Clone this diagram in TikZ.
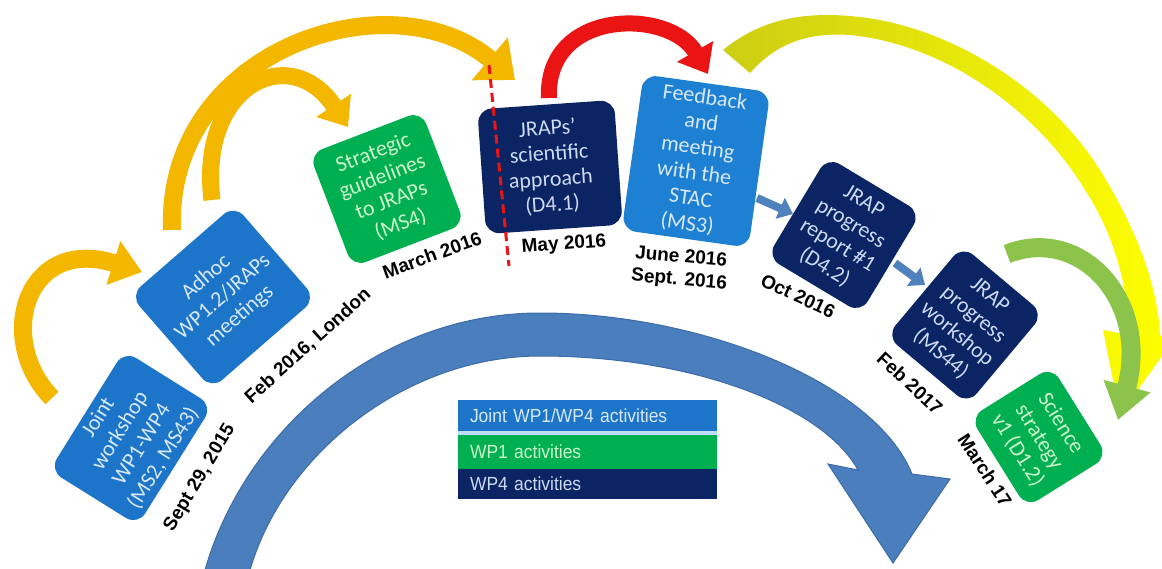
\documentclass[tikz,border=0pt]{standalone}
\usepackage{fontspec}
\setmainfont{Carlito}
\newfontfamily\datefont{Liberation Sans}
\newfontfamily\legfont[FakeStretch=0.92]{Liberation Sans}
\usetikzlibrary{arrows.meta}
\definecolor{jblue}{RGB}{28,117,200}
\definecolor{fblue}{RGB}{30,128,210}
\definecolor{wgreen}{RGB}{0,176,80}
\definecolor{navy}{RGB}{10,36,100}
\definecolor{orng}{RGB}{243,183,0}
\definecolor{redA}{RGB}{235,20,20}
\definecolor{ylA}{RGB}{205,205,20}
\definecolor{ylB}{RGB}{255,255,0}
\definecolor{lgreen}{RGB}{140,195,75}
\definecolor{sblue}{RGB}{79,129,189}
\definecolor{arcblue}{RGB}{74,126,188}
\definecolor{arcedge}{RGB}{62,108,168}
\definecolor{txtblue}{RGB}{215,232,250}
\definecolor{txtgreen}{RGB}{205,245,205}
\definecolor{txtnavy}{RGB}{205,218,242}
\definecolor{legsep}{RGB}{190,220,245}
\tikzset{
  box/.style={rounded corners=14pt, inner sep=1pt, align=center,
    font=\fontsize{22}{25.5}\selectfont, anchor=center},
  jointbox/.style={box, fill=jblue, text=txtblue},
  fbbox/.style={box, fill=fblue, text=txtblue},
  wponebox/.style={box, fill=wgreen, text=txtgreen},
  wpfourbox/.style={box, fill=navy, text=txtnavy},
  datelabel/.style={font=\datefont\bfseries\fontsize{19}{23}\selectfont, align=center, inner sep=0pt},
  legrow/.style={anchor=center, inner xsep=12pt, inner ysep=0pt, text width=235pt, align=left,
    font=\legfont\fontsize{19}{21}\selectfont},
  swoosh/.style={line width=#1, line cap=butt},
  smallarrow/.style={sblue, line width=8pt, -{Triangle[length=14pt,width=22pt]}},
}
\begin{document}
\begin{tikzpicture}[x=1pt,y=-1pt]
\useasboundingbox (0,0) rectangle (1162,568);
\begin{scope}
\clip (0,0) rectangle (1162,568);

% big blue arc arrow
\fill[arcblue, draw=arcedge, line width=1pt] (205,570) .. controls (245,430) and (380,313) .. (540,313)
  .. controls (700,313) and (875,382) .. (912,474) -- (950,479) -- (893,563) -- (828,464) -- (858,470)
  .. controls (822,405) and (690,356) .. (540,356) .. controls (410,356) and (285,450) .. (250,570) -- cycle;

% legend
\fill[legsep] (458,430) rectangle (717,436);
\node[legrow, fill=jblue, text=txtblue, minimum height=31pt] (lg1) at (587.5,415.5) {Joint WP1/WP4 activities};
\node[legrow, fill=wgreen, text=txtgreen, minimum height=34pt] (lg2) at (587.5,452) {WP1 activities};
\node[legrow, fill=navy, text=txtnavy, minimum height=30pt] (lg3) at (587.5,484) {WP4 activities};

% boxes
\node[jointbox, rotate=58, minimum width=141pt, minimum height=104pt] (joint) at (131,438) {Joint\\workshop\\WP1-WP4\\(MS2, MS43)};
\node[jointbox, rotate=41, minimum width=138pt, minimum height=124pt] (adhoc) at (223,297) {Adhoc\\WP1.2/JRAPs\\meetings};
\node[wponebox, rotate=21, minimum width=120pt, minimum height=121pt] (strat) at (387,189) {Strategic\\guidelines\\to JRAPs\\(MS4)};
\node[wpfourbox, rotate=4, minimum width=137pt, minimum height=125pt] (jraps) at (550,167) {JRAPs’\\scientific\\approach\\(D4.1)};
\node[fbbox, rotate=-8, minimum width=128pt, minimum height=157pt] (feed) at (696,161) {Feedback\\and\\meeting\\with the\\STAC\\(MS3)};
\node[wpfourbox, rotate=-31, minimum width=109pt, minimum height=117pt] (report) at (844,235) {JRAP\\progress\\report \#1\\(D4.2)};
\node[wpfourbox, rotate=-40, minimum width=106pt, minimum height=118pt] (wshop) at (965,325) {JRAP\\progress\\workshop\\(MS44)};
\node[wponebox, rotate=-58, minimum width=106pt, minimum height=96pt] (sci) at (1039,437) {Science\\strategy\\v1 (D1.2)};

% dates
\node[datelabel, rotate=59] (d1) at (200,478) {Sept 29, 2015};
\node[datelabel, rotate=42] (d2) at (308,346) {Feb 2016, London};
\node[datelabel, rotate=20] (d3) at (432,255) {March 2016};
\node[datelabel, rotate=4] (d4) at (564,245) {May 2016};
\node[datelabel, rotate=-5] (d5) at (680,269) {June 2016\\Sept. 2016};
\node[datelabel, rotate=-25] (d6) at (798,296) {Oct 2016};
\node[datelabel, rotate=-43] (d7) at (910,383) {Feb 2017};
\node[datelabel, rotate=-57] (d8) at (985,470) {March 17};

% connector end points
\coordinate (o1s) at (52,398);  \coordinate (o1e) at (142,272);
\coordinate (o2s) at (212,200); \coordinate (o2e) at (348,127);
\coordinate (o3s) at (172,230); \coordinate (o3e) at (515,80);
\coordinate (r1s) at (549,98);  \coordinate (r1e) at (708,74);
\coordinate (g1s) at (1007,254); \coordinate (g1e) at (1118,420);
\coordinate (b1s) at (757,198); \coordinate (b1e) at (793,214);
\coordinate (b2s) at (895,263); \coordinate (b2e) at (925,285);
\coordinate (ds1) at (489,65);  \coordinate (ds2) at (509,266);

% orange arrows
\draw[orng, swoosh=18pt, -{Triangle[length=30pt,width=44pt]}] (o1s) .. controls (-5,340) and (25,235) .. (o1e);
\draw[orng, swoosh=17pt, -{Triangle[length=26pt,width=40pt]}] (o2s) .. controls (198,85) and (290,40) .. (o2e);
\draw[orng, swoosh=18pt, -{Triangle[length=33pt,width=54pt]}] (o3s) .. controls (165,50) and (390,-25) .. (o3e);

% red arrow
\draw[redA, swoosh=16pt, -{Triangle[length=26pt,width=40pt]}] (r1s) .. controls (545,8) and (670,8) .. (r1e);

% yellow swoosh
\shade[left color=ylA, right color=ylB] (723,50) .. controls (760,20) and (800,12) .. (850,16)
  .. controls (950,24) and (1050,90) .. (1100,170) .. controls (1140,235) and (1158,290) .. (1160,335)
  -- (1172,342) -- (1120,415) -- (1103,330) -- (1130,335)
  .. controls (1128,290) and (1115,235) .. (1085,190) .. controls (1040,115) and (950,45) .. (850,35)
  .. controls (805,32) and (775,45) .. (750,73) -- cycle;

% light green arrow
\draw[lgreen, swoosh=19pt, -{Triangle[length=35pt,width=46pt]}] (g1s) .. controls (1080,225) and (1150,300) .. (g1e);

% small blue arrows
\draw[smallarrow] (b1s) -- (b1e);
\draw[smallarrow] (b2s) -- (b2e);

% red dashed line
\draw[redA, line width=3pt, dash pattern=on 9pt off 5pt] (ds1) -- (ds2);
\end{scope}
\end{tikzpicture}
\end{document}
